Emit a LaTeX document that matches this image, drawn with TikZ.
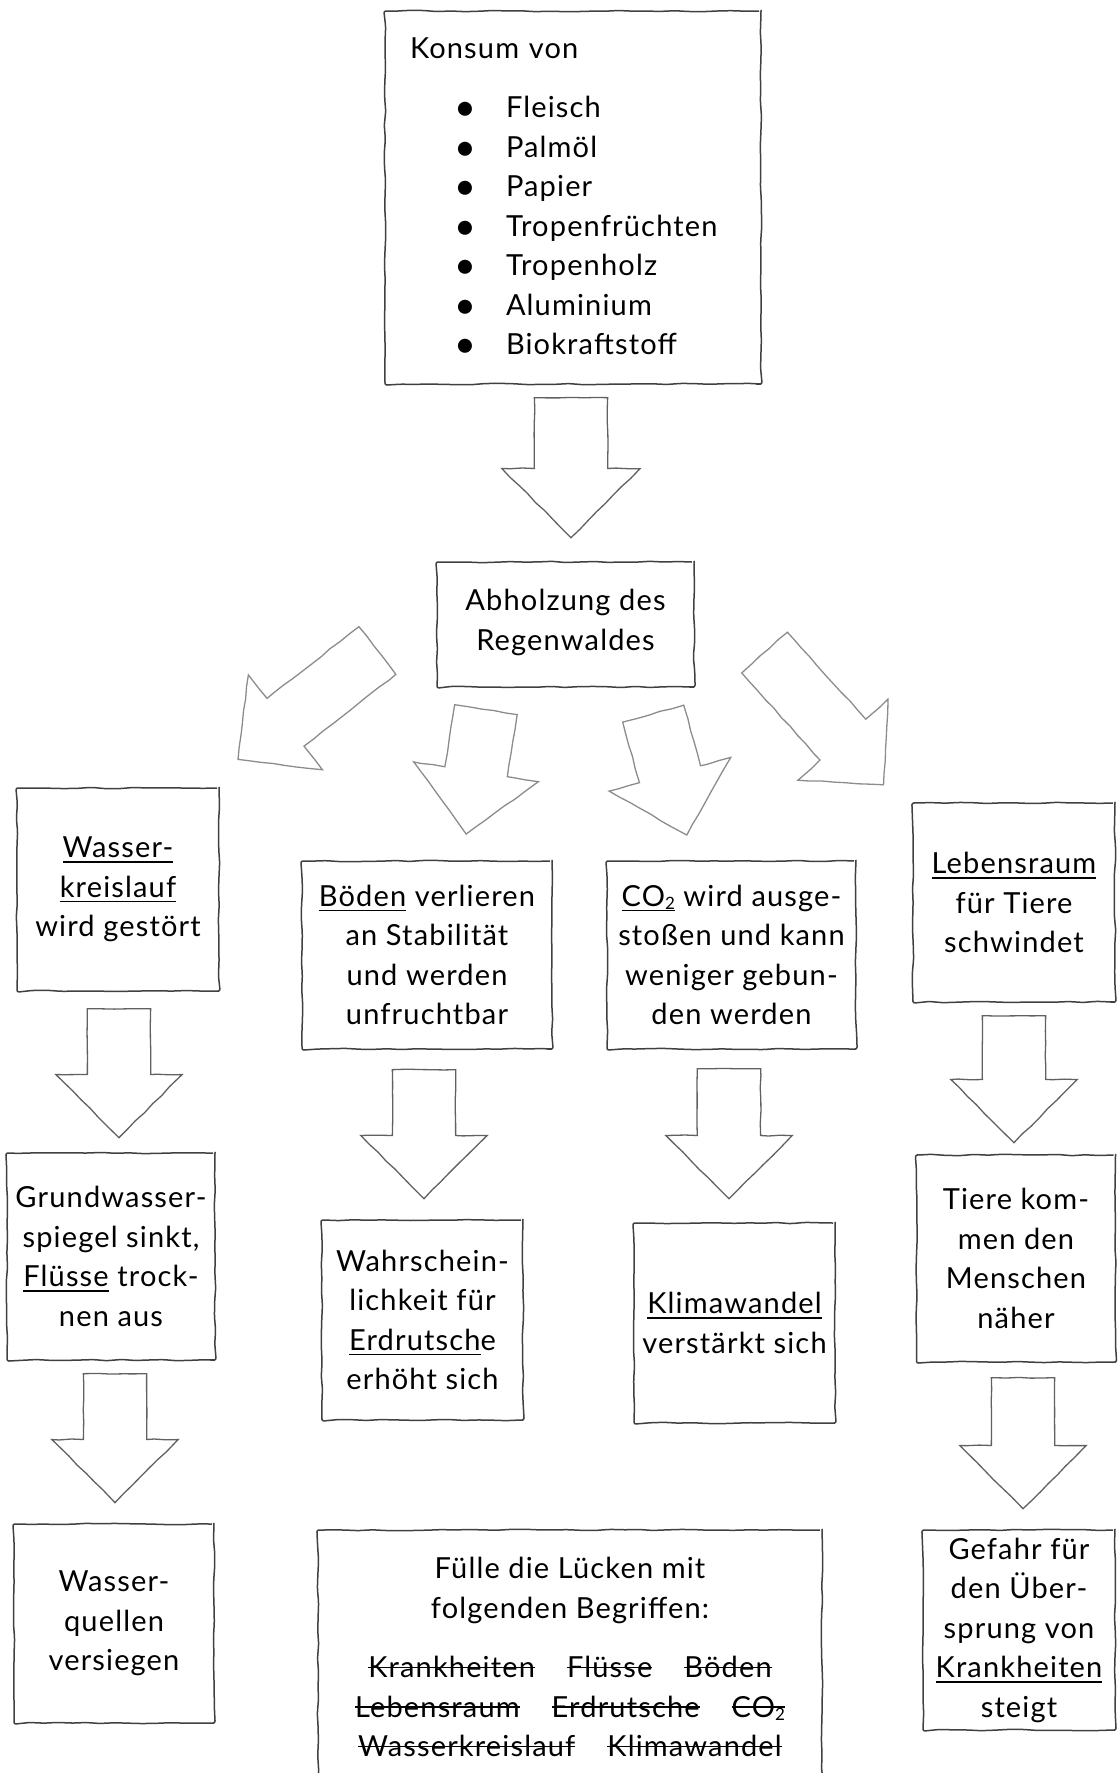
\documentclass[tikz,border=0pt]{standalone}
\usepackage{fontspec}
\setmainfont{Lato}[LetterSpace=4]
\usepackage{tikz}
\usetikzlibrary{shapes.arrows,decorations.pathmorphing}

\newcommand{\unter}[1]{\setbox0\hbox{#1}\rlap{\rule[-5pt]{\wd0}{1.6pt}}\box0{}}
\newcommand{\durch}[1]{\setbox0\hbox{#1}\rlap{\rule[0.33em]{\wd0}{1.3pt}}\box0{}}
\newcommand{\punkt}[1]{\hspace*{44pt}\makebox[52pt][l]{\raisebox{-3pt}{\scalebox{1.3}{\textbullet}}}#1}
\newcommand{\zwei}{\raisebox{-3pt}{\fontsize{17}{17}\selectfont 2}}

\tikzset{
	kasten/.style={draw=black!75, line width=1.5pt, fill=white, align=center, inner sep=0pt,
		decorate, decoration={random steps, segment length=14pt, amplitude=0.7pt}, rounded corners=2pt},
	pfeil/.style={single arrow, draw=black!62, line width=1.3pt, fill=white,
		inner xsep=0pt, inner ysep=31pt, minimum width=0pt, minimum height=129pt,
		single arrow head extend=31.5pt, single arrow tip angle=90, anchor=tail,
		decorate, decoration={random steps, segment length=12pt, amplitude=0.5pt}},
	runter/.style={pfeil, rotate=-90},
	schraeg/.style={pfeil, draw=black!45}
}

\begin{document}
\begin{tikzpicture}[x=1pt, y=-1pt, font=\fontsize{29}{39.5}\selectfont]
	\pgfmathsetseed{7}
	\useasboundingbox (0,0) rectangle (1118,1773);

	\node[kasten, minimum width=376, minimum height=373, text width=326, align=left] (konsum) at (573, 197.5) {Konsum von\\[20pt]
		\punkt{Fleisch}\\ \punkt{Palmöl}\\ \punkt{Papier}\\ \punkt{Tropenfrüchten}\\
		\punkt{Tropenholz}\\ \punkt{Aluminium}\\ \punkt{Biokraftstoff}};
	\node[kasten, minimum width=257, minimum height=125] (abholz) at (565.5, 624.5) {Abholzung des\\Regenwaldes\\[-30pt]\mbox{}};

	\node[kasten, minimum width=202, minimum height=203] (wasser) at (118, 889.5) {\unter{Wasser-}\\\unter{kreislauf}\\wird gestört};
	\node[kasten, minimum width=250, minimum height=188] (boeden) at (427, 955) {\unter{Böden} verlieren\\an Stabilität\\und werden\\unfruchtbar};
	\node[kasten, minimum width=249, minimum height=188] (cotwo) at (731.5, 955) {\unter{CO\zwei} wird ausge-\\stoßen und kann\\weniger gebun-\\den werden};
	\node[kasten, minimum width=202, minimum height=199] (lebens) at (1014, 902.5) {\unter{Lebensraum}\\für Tiere\\schwindet};

	\node[kasten, minimum width=208, minimum height=207] (grund) at (111, 1256.5) {Grundwasser-\\spiegel sinkt,\\\unter{Flüsse} trock-\\nen aus};
	\node[kasten, minimum width=201, minimum height=200] (wahr) at (422.5, 1320) {Wahrschein-\\lichkeit für\\\unter{Erdrutsch}e\\erhöht sich};
	\node[kasten, minimum width=201, minimum height=200] (klima) at (734.5, 1323) {\unter{Klimawandel}\\verstärkt sich};
	\node[kasten, minimum width=199, minimum height=207] (tiere) at (1016, 1258.5) {Tiere kom-\\men den\\Menschen\\näher};

	\node[kasten, minimum width=200, minimum height=199] (quellen) at (114, 1623.5) {Wasser-\\quellen\\versiegen};
	\node[kasten, minimum width=192, minimum height=200] (gefahr) at (1019, 1630) {Gefahr für\\den Über-\\sprung von\\\unter{Krankheiten}\\steigt};
	\node[kasten, minimum width=504, minimum height=254] (luecken) at (570, 1657) {Fülle die Lücken mit\\folgenden Begriffen:\\[20pt]
		\durch{Krankheiten}\hspace{32pt}\durch{Flüsse}\hspace{32pt}\durch{Böden}\\
		\durch{Lebensraum}\hspace{32pt}\durch{Erdrutsche}\hspace{32pt}\durch{CO\zwei}\\
		\durch{Wasserkreislauf}\hspace{32pt}\durch{Klimawandel}};

	\node[runter, inner ysep=36pt, minimum height=140, single arrow head extend=32.5pt] (p0) at (571, 397) {};
	\node[schraeg, rotate=218, inner ysep=29.5pt, minimum height=177, single arrow head extend=30pt] (p1) at (378, 650) {};
	\node[schraeg, rotate=-99, minimum height=126] (p2) at (486, 709) {};
	\node[schraeg, rotate=-74.5, minimum height=126] (p3) at (653, 713) {};
	\node[schraeg, rotate=-48, inner ysep=30pt, minimum height=178, single arrow head extend=30pt] (p4) at (764, 652) {};

	\node[runter] (p5) at (119, 1008) {};
	\node[runter] (p6) at (115, 1373) {};
	\node[runter] (p7) at (424, 1069) {};
	\node[runter, minimum height=130] (p8) at (729, 1068) {};
	\node[runter, minimum height=127] (p9) at (1014, 1015) {};
	\node[runter, minimum height=131] (p10) at (1023, 1377) {};
\end{tikzpicture}
\end{document}
